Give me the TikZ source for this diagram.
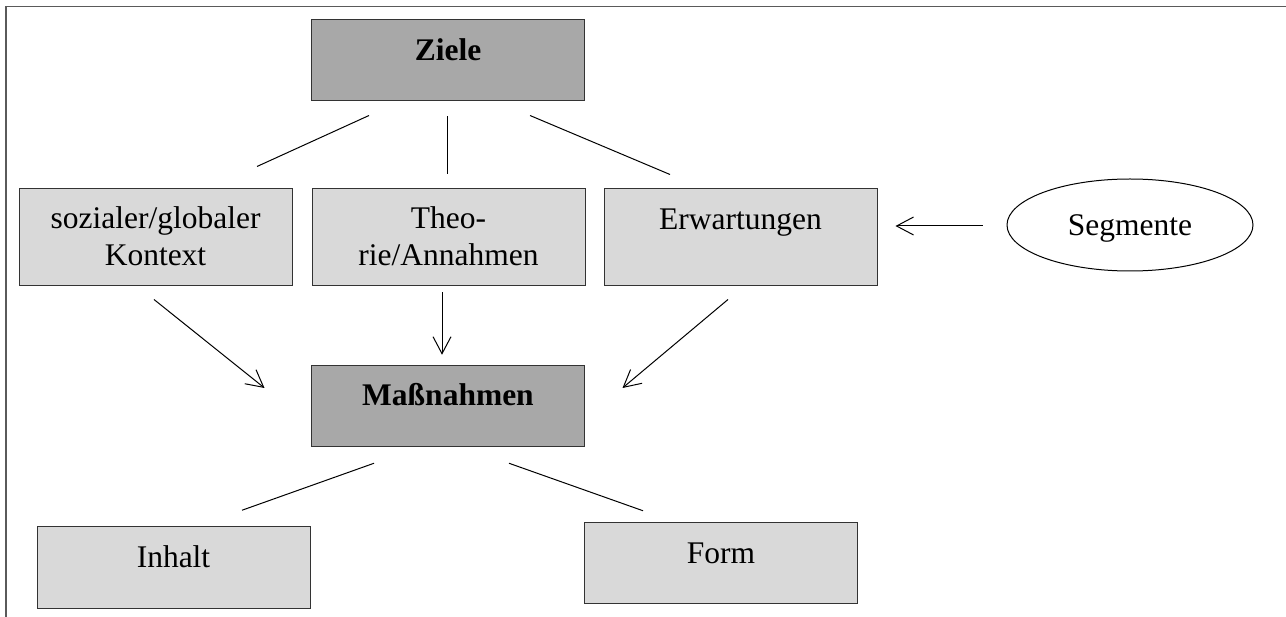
\documentclass[tikz,border=0pt]{standalone}
\usepackage{fontspec}
\setmainfont{Liberation Serif}
\usetikzlibrary{arrows.meta,calc,shapes.geometric}

\definecolor{darkfill}{HTML}{A8A8A8}
\definecolor{lightfill}{HTML}{D9D9D9}
\definecolor{edge}{HTML}{333333}
\definecolor{framegray}{HTML}{5A5A5A}

\tikzset{
  box/.style={draw=edge, line width=1pt, rectangle, inner sep=0pt},
  mainbox/.style={box, fill=darkfill, minimum width=272.5pt, minimum height=81.5pt},
  subbox/.style={box, fill=lightfill, minimum width=273pt, minimum height=97pt},
  leafbox/.style={box, fill=lightfill, minimum width=273pt, minimum height=81.5pt},
  oval/.style={draw=black, line width=1pt, ellipse, inner sep=0pt,
    minimum width=246pt, minimum height=92pt},
  txt/.style={anchor=base, inner sep=0pt, font=\fontsize{31.5}{37}\selectfont},
  btxt/.style={txt, font=\fontsize{31.5}{37}\selectfont\bfseries},
  link/.style={draw=black, line width=1pt},
  flow/.style={link, -{Straight Barb[length=17pt, width=18pt, line width=1pt]}},
  frameline/.style={draw=framegray, line width=1.6pt}
}

\begin{document}
\begin{tikzpicture}[x=1pt, y=-1pt]
  \useasboundingbox (0,0) rectangle (1286,617);

  % page frame (top and left edge only)
  \coordinate (frameTL) at (6,6.5);
  \coordinate (frameTR) at (1286,6.5);
  \coordinate (frameBL) at (6,617);
  \draw[frameline] (frameTR) -- (frameTL) -- (frameBL);

  % boxes
  \node[mainbox] (ziele)   at (448,60)      {};
  \node[subbox]  (sozial)  at (155.5,237.5) {};
  \node[subbox]  (theorie) at (448.5,237.5) {};
  \node[subbox]  (erw)     at (740.5,237.5) {};
  \node[mainbox] (mass)    at (448,406)     {};
  \node[leafbox] (inhalt)  at (173.5,567.5) {};
  \node[leafbox] (form)    at (721,563)     {};
  \node[oval]    (segm)    at (1130,225)    {};

  % labels
  \node[btxt] (zieleT)    at (448,60.5)    {Ziele};
  \node[txt]  (sozialT1)  at (155.5,228.5) {sozialer/globaler};
  \node[txt]  (sozialT2)  at (155.5,265.5) {Kontext};
  \node[txt]  (theorieT1) at (448.5,228.5) {Theo-};
  \node[txt]  (theorieT2) at (448.5,265.5) {rie/Annahmen};
  \node[txt]  (erwT)      at (740.5,230)   {Erwartungen};
  \node[btxt] (massT)     at (448,406)     {Maßnahmen};
  \node[txt]  (inhaltT)   at (173.5,567)   {Inhalt};
  \node[txt]  (formT)     at (721,563)     {Form};
  \node[txt]  (segmT)     at (1130,236)    {Segmente};

  % plain links from the goals
  \draw[link] ($(ziele.south)+(-79,14.25)$) -- ($(sozial.north)+(101.5,-22)$);
  \draw[link] ($(ziele.south)+(-1,15)$)     -- ($(theorie.north)+(-1.5,-14.5)$);
  \draw[link] ($(ziele.south)+(82,14.25)$)  -- ($(erw.north)+(-70.5,-14)$);

  % arrows into the measures
  \draw[flow] ($(sozial.south)+(-1.5,13)$)  -- ($(mass.west)+(-46.75,-18)$);
  \draw[flow] ($(theorie.south)+(-6.5,6)$)  -- ($(mass.north)+(-6,-10)$);
  \draw[flow] ($(erw.south)+(-12.5,13)$)    -- ($(mass.east)+(37.75,-18)$);

  % segments feed the expectations
  \draw[flow] ($(segm.west)+(-24,1)$) -- ($(erw.east)+(18,-11.5)$);

  % plain links from the measures
  \draw[link] ($(mass.south)+(-74,16)$) -- ($(inhalt.north)+(68.5,-16)$);
  \draw[link] ($(mass.south)+(61,16)$)  -- ($(form.north)+(-78,-11)$);
\end{tikzpicture}
\end{document}
